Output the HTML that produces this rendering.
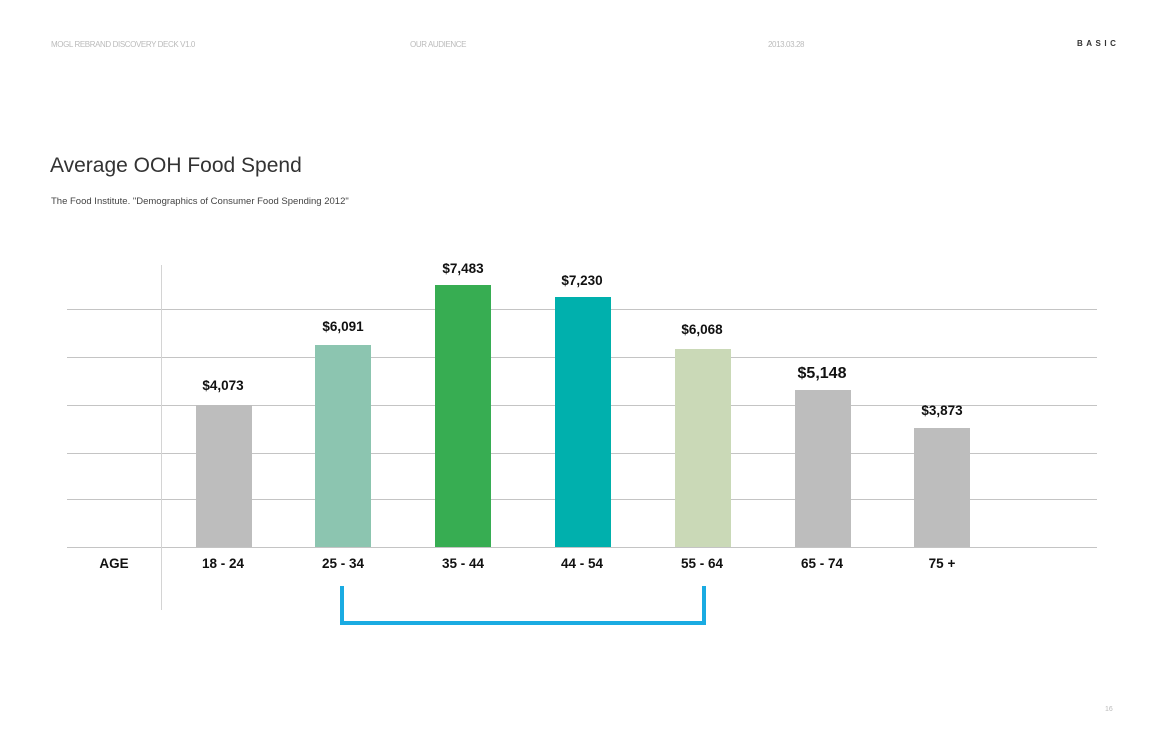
<!DOCTYPE html>
<html><head><style>
body{margin:0;width:1166px;height:752px;background:#fff;position:relative;overflow:hidden;font-family:"Liberation Sans",sans-serif}
.a{position:absolute}
.hd{top:40px;font-size:8px;color:#bbb;letter-spacing:-0.4px}
.g{position:absolute;left:67px;width:1030px;height:1px;background:#c4c4c4}
.bar{position:absolute;width:56px}
.v{position:absolute;width:120px;text-align:center;font-weight:bold;font-size:13.5px;color:#111}
.x{position:absolute;top:556px;width:120px;text-align:center;font-weight:bold;font-size:13.5px;color:#111}
</style></head><body>
<div class="a hd" style="left:51px">MOGL REBRAND DISCOVERY DECK V1.0</div>
<div class="a hd" style="left:410px">OUR AUDIENCE</div>
<div class="a hd" style="left:768px">2013.03.28</div>
<div class="a" style="left:1077px;top:39px;font-size:8px;font-weight:bold;letter-spacing:3.5px;color:#333">BASIC</div>
<div class="a" style="left:50px;top:154px;font-size:21px;color:#333">Average OOH Food Spend</div>
<div class="a" style="left:51px;top:196px;font-size:9.5px;color:#444">The Food Institute. "Demographics of Consumer Food Spending 2012"</div>
<div class="g" style="top:309px"></div><div class="g" style="top:357px"></div><div class="g" style="top:405px"></div><div class="g" style="top:453px"></div><div class="g" style="top:499px"></div><div class="g" style="top:547px"></div>
<div class="a" style="left:161px;top:265px;width:1px;height:345px;background:#d4d4d4"></div>
<div class="bar" style="left:196px;top:405px;background:#bdbdbd;height:142px"></div>
<div class="bar" style="left:315px;top:345px;background:#8cc5b0;height:202px"></div>
<div class="bar" style="left:435px;top:285px;background:#37ad52;height:262px"></div>
<div class="bar" style="left:555px;top:297px;background:#00b0ad;height:250px"></div>
<div class="bar" style="left:675px;top:349px;background:#cad9b7;height:198px"></div>
<div class="bar" style="left:795px;top:390px;background:#bdbdbd;height:157px"></div>
<div class="bar" style="left:914px;top:428px;background:#bdbdbd;height:119px"></div>
<div class="v" style="left:163px;top:378px">$4,073</div>
<div class="v" style="left:283px;top:319px">$6,091</div>
<div class="v" style="left:403px;top:261px">$7,483</div>
<div class="v" style="left:522px;top:273px">$7,230</div>
<div class="v" style="left:642px;top:322px">$6,068</div>
<div class="v" style="left:762px;top:365px;font-size:16px">$5,148</div>
<div class="v" style="left:882px;top:403px">$3,873</div>
<div class="x" style="left:54px">AGE</div>
<div class="x" style="left:163px">18 - 24</div>
<div class="x" style="left:283px">25 - 34</div>
<div class="x" style="left:403px">35 - 44</div>
<div class="x" style="left:522px">44 - 54</div>
<div class="x" style="left:642px">55 - 64</div>
<div class="x" style="left:762px">65 - 74</div>
<div class="x" style="left:882px">75 +</div>
<div class="a" style="left:340px;top:586px;width:358px;height:35px;border:4px solid #1aabe2;border-top:none"></div>
<div class="a" style="left:1105px;top:706px;font-size:7px;color:#bbb">16</div>
</body></html>
